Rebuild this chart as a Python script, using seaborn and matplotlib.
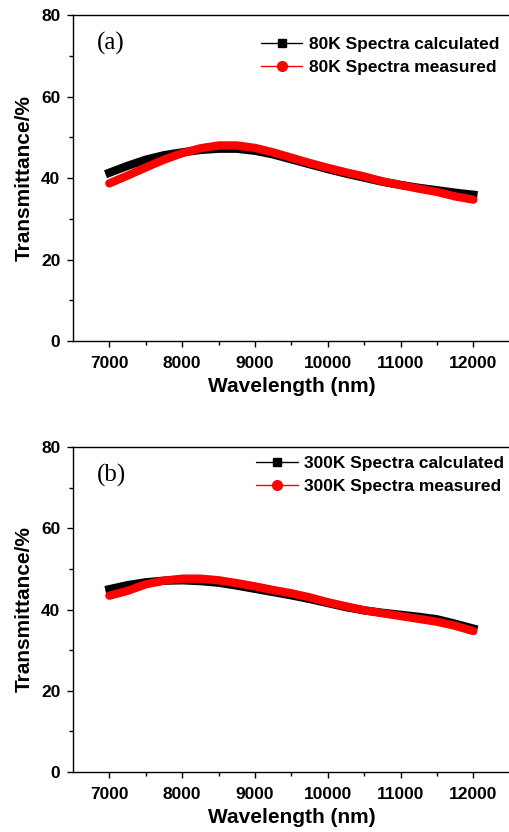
import numpy as np
import matplotlib.pyplot as plt
import pandas as pd
import seaborn as sns
from matplotlib.lines import Line2D

wavelength = [7000, 7250, 7500, 7750, 8000, 8250, 8500, 8750, 9000, 9250, 9500,
              9750, 10000, 10250, 10500, 10750, 11000, 11250, 11500, 11750, 12000]

calc_80k = [41.3, 43.0, 44.5, 45.6, 46.3, 46.9, 47.2, 47.2, 46.7, 45.8, 44.6,
            43.4, 42.2, 41.1, 40.1, 39.1, 38.3, 37.6, 37.0, 36.4, 35.9]
meas_80k = [38.7, 40.6, 42.6, 44.5, 46.1, 47.3, 48.0, 48.0, 47.4, 46.3, 45.0,
            43.7, 42.5, 41.4, 40.4, 39.2, 38.3, 37.4, 36.6, 35.5, 34.7]

calc_300k = [45.0, 46.0, 46.7, 47.1, 47.2, 47.0, 46.6, 45.9, 45.1, 44.3, 43.5,
             42.6, 41.6, 40.6, 39.8, 39.2, 38.7, 38.2, 37.6, 36.5, 35.3]
meas_300k = [43.4, 44.6, 46.2, 47.1, 47.6, 47.6, 47.2, 46.5, 45.7, 44.8, 44.0,
             43.0, 41.8, 40.8, 39.8, 39.1, 38.4, 37.7, 37.0, 36.0, 34.7]

panels = [
    ('(a)', calc_80k, meas_80k, '80K Spectra calculated', '80K Spectra measured'),
    ('(b)', calc_300k, meas_300k, '300K Spectra calculated', '300K Spectra measured'),
]

sns.set_style('ticks')
plt.rcParams['font.family'] = ['Liberation Sans', 'DejaVu Sans']
plt.rcParams['font.weight'] = 'bold'
plt.rcParams['text.color'] = 'black'
plt.rcParams['axes.labelcolor'] = 'black'
plt.rcParams['xtick.color'] = 'black'
plt.rcParams['ytick.color'] = 'black'

fig = plt.figure(figsize=(5.09, 8.32), dpi=100)
rects = [[0.1434, 0.5901, 0.858, 0.3918], [0.1434, 0.0721, 0.858, 0.3906]]
legend_pos = [(0.43, 0.932), (0.42, 0.972)]

for rect, lpos, (tag, calc, meas, lab_c, lab_m) in zip(rects, legend_pos, panels):
    ax = fig.add_axes(rect)
    df = pd.DataFrame({'w': wavelength, 'calc': calc, 'meas': meas})
    sns.lineplot(data=df, x='w', y='calc', ax=ax, color='black', linewidth=6,
                 solid_capstyle='projecting')
    sns.lineplot(data=df, x='w', y='meas', ax=ax, color='red', linewidth=6,
                 solid_capstyle='round')
    ax.set_xlim(6500, 12500)
    ax.set_ylim(0, 80)
    ax.set_xticks([7000, 8000, 9000, 10000, 11000, 12000])
    ax.set_xticks(np.arange(7500, 12500, 1000), minor=True)
    ax.set_yticks([0, 20, 40, 60, 80])
    ax.set_yticks([10, 30, 50, 70], minor=True)
    ax.tick_params(which='major', length=4, width=1, labelsize=12.5, direction='out')
    ax.tick_params(axis='x', which='major', pad=7)
    ax.tick_params(axis='y', which='major', pad=5)
    ax.tick_params(which='minor', length=3, width=1, direction='out')
    for lbl in ax.get_xticklabels() + ax.get_yticklabels():
        lbl.set_fontweight('bold')
    for s in ax.spines.values():
        s.set_linewidth(1)
        s.set_color('black')
    ax.set_xlabel('Wavelength (nm)', fontsize=15, fontweight='bold', labelpad=4)
    ax.set_ylabel('Transmittance/%', fontsize=15, fontweight='bold', labelpad=5)
    ax.text(0.055, 0.912, tag, transform=ax.transAxes, fontsize=18,
            family='Liberation Serif', fontweight='normal', va='center')
    handles = [
        Line2D([], [], color='black', lw=1, marker='s', markersize=6),
        Line2D([], [], color='red', lw=1, marker='o', markersize=7),
    ]
    ax.legend(handles, [lab_c, lab_m], loc='upper left', bbox_to_anchor=lpos,
              frameon=False, handlelength=2.4, handletextpad=0.35,
              labelspacing=0.42, borderpad=0, borderaxespad=0,
              prop={'weight': 'bold', 'size': 12.5})

fig.savefig('out.png', dpi=100)
